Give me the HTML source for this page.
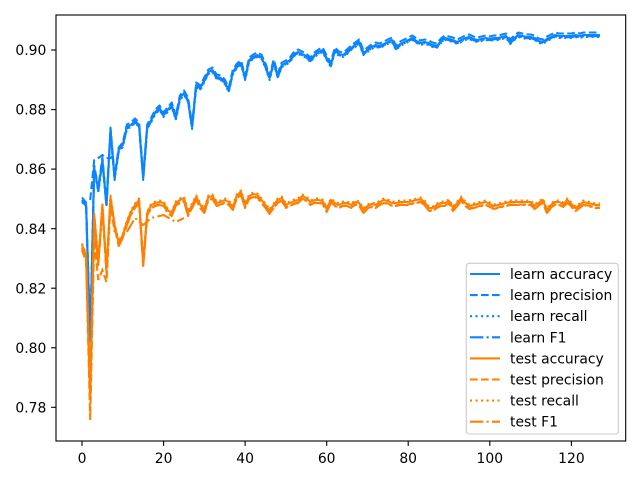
<!DOCTYPE html>
<html><head><meta charset="utf-8"><style>
html,body{margin:0;padding:0;background:#fff;}
svg{display:block;}
text{font-family:"DejaVu Sans","Liberation Sans",sans-serif;font-size:13.9px;fill:#000;}
</style></head><body>
<svg width="640" height="480" viewBox="0 0 640 480" xmlns="http://www.w3.org/2000/svg">
<defs>
<polyline id="b" fill="none" stroke-linejoin="round" points="82,200 86.1,205 90.2,340 94.2,168 98.3,190 102.4,160 106.5,205 110.5,130 114.6,178 118.7,150 122.8,145 126.9,127 130.9,125 135,121 139.1,125 143.2,178 147.2,127 151.3,120 155.4,112 159.5,108 163.6,115 167.6,110 171.7,105 175.8,118 179.9,98 184,93 188,100 192.1,127 196.2,85 200.3,88 204.3,80 208.4,72 212.5,70 216.6,77 220.7,78 224.7,82 228.8,90 232.9,72 237,66 241,63 245.1,78 249.2,60 253.3,57 257.4,55 261.4,57 265.5,66 269.6,78 273.7,62 277.7,76 281.8,65 285.9,63 290,60 294.1,54 298.1,52 302.2,54 306.3,56 310.4,60 314.4,55 318.5,52 322.6,50 326.7,58 330.8,65 334.8,50 338.9,54 343,55 347.1,52 351.1,48 355.2,45 359.3,42 363.4,53 367.5,50 371.5,47 375.6,45 379.7,46 383.8,44 387.9,42 391.9,40 396,48 400.1,44 404.2,42 408.2,40 412.3,38 416.4,41 420.5,43 424.6,42 428.6,43 432.7,45 436.8,46 440.9,41 444.9,38 449,39 453.1,40 457.2,42 461.3,40 465.3,38 469.4,37 473.5,39 477.6,40 481.6,39 485.7,38 489.8,39 493.9,38 498,38 502,37 506.1,36 510.2,42 514.3,38 518.3,35 522.4,36 526.5,37 530.6,37 534.7,38 538.7,41 542.8,42 546.9,39 551,37 555,35 559.1,36 563.2,36 567.3,36 571.4,36 575.4,35 579.5,36 583.6,35 587.7,35 591.8,35 595.8,35 599.9,35"/>
<polyline id="o" fill="none" stroke-linejoin="round" points="82,245 86.1,255 90.2,395 94.2,215 98.3,262 102.4,205 106.5,270 110.5,197 114.6,225 118.7,243 122.8,235 126.9,222 130.9,212 135,205 139.1,200 143.2,263 147.2,213 151.3,205 155.4,203 159.5,202 163.6,203 167.6,210 171.7,213 175.8,203 179.9,200 184,198 188,213 192.1,205 196.2,197 200.3,205 204.3,210 208.4,197 212.5,196 216.6,203 220.7,202 224.7,200 228.8,202 232.9,207 237,195 241,192 245.1,205 249.2,196 253.3,194 257.4,195 261.4,200 265.5,205 269.6,211 273.7,205 277.7,200 281.8,198 285.9,205 290,203 294.1,201 298.1,200 302.2,196 306.3,198 310.4,202 314.4,200 318.5,200 322.6,201 326.7,209 330.8,200 334.8,203 338.9,205 343,203 347.1,203 351.1,205 355.2,202 359.3,203 363.4,210 367.5,206 371.5,204 375.6,205 379.7,202 383.8,200 387.9,201 391.9,203 396,203 400.1,202 404.2,202 408.2,202 412.3,201 416.4,200 420.5,199 424.6,202 428.6,208 432.7,208 436.8,205 440.9,203 444.9,203 449,201 453.1,208 457.2,203 461.3,198 465.3,203 469.4,206 473.5,205 477.6,204 481.6,203 485.7,202 489.8,204 493.9,206 498,205 502,204 506.1,203 510.2,202 514.3,202 518.3,202 522.4,202 526.5,202 530.6,202 534.7,206 538.7,203 542.8,200 546.9,210 551,205 555,202 559.1,202 563.2,204 567.3,200 571.4,204 575.4,208 579.5,205 583.6,202 587.7,203 591.8,204 595.8,205 599.9,205"/>
</defs>

<!-- blue series -->
<g stroke="#0a84ff" stroke-width="2.08">
  <use href="#b"/>
  <use href="#b" transform="translate(0,-2.5)" stroke-dasharray="7.7,3.3"/>
  <use href="#b" transform="translate(0,2)" stroke-dasharray="2.08,3.43"/>
  <use href="#b" transform="translate(0,1.2)" stroke-dasharray="13.3,3.3,2.08,3.3"/>
  <polyline fill="none" stroke-dasharray="7.7,3.3" points="90.2,200 94.2,160 98.3,158 102.4,155 106.5,158 110.5,158 114.6,155"/>
</g>
<!-- orange series -->
<g stroke="#ff8000" stroke-width="2.08">
  <use href="#o"/>
  <use href="#o" transform="translate(0,2.5)" stroke-dasharray="7.7,3.3"/>
  <use href="#o" transform="translate(0,-1.5)" stroke-dasharray="2.08,3.43"/>
  <use href="#o" transform="translate(0,3)" stroke-dasharray="13.3,3.3,2.08,3.3"/>
  <polyline fill="none" stroke-dasharray="7.7,3.3" points="82,250 86.1,262 90.2,420 94.2,240 98.3,280 102.4,270 106.5,282 110.5,205 114.6,232"/>
  <polyline fill="none" stroke-dasharray="13.3,3.3,2.08,3.3" points="126.9,232 135,218 143.2,225 151.3,218 163.6,215 175.8,222 184,218"/>
</g>

<!-- axes frame -->
<rect x="56" y="15" width="569.7" height="426" fill="none" stroke="#000" stroke-width="1.1"/>

<!-- ticks -->
<g stroke="#000" stroke-width="1.1">
  <line x1="51.1" y1="407.3" x2="56" y2="407.3"/>
  <line x1="51.1" y1="347.8" x2="56" y2="347.8"/>
  <line x1="51.1" y1="288.2" x2="56" y2="288.2"/>
  <line x1="51.1" y1="228.7" x2="56" y2="228.7"/>
  <line x1="51.1" y1="169.1" x2="56" y2="169.1"/>
  <line x1="51.1" y1="109.6" x2="56" y2="109.6"/>
  <line x1="51.1" y1="50" x2="56" y2="50"/>
  <line x1="82" y1="441" x2="82" y2="445.9"/>
  <line x1="163.6" y1="441" x2="163.6" y2="445.9"/>
  <line x1="245.1" y1="441" x2="245.1" y2="445.9"/>
  <line x1="326.7" y1="441" x2="326.7" y2="445.9"/>
  <line x1="408.2" y1="441" x2="408.2" y2="445.9"/>
  <line x1="489.8" y1="441" x2="489.8" y2="445.9"/>
  <line x1="571.4" y1="441" x2="571.4" y2="445.9"/>
</g>
<g text-anchor="end">
  <text x="46.3" y="412.4">0.78</text>
  <text x="46.3" y="352.9">0.80</text>
  <text x="46.3" y="293.3">0.82</text>
  <text x="46.3" y="233.8">0.84</text>
  <text x="46.3" y="174.2">0.86</text>
  <text x="46.3" y="114.7">0.88</text>
  <text x="46.3" y="55.1">0.90</text>
</g>
<g text-anchor="middle">
  <text x="82" y="463">0</text>
  <text x="163.6" y="463">20</text>
  <text x="245.1" y="463">40</text>
  <text x="326.7" y="463">60</text>
  <text x="408.2" y="463">80</text>
  <text x="489.8" y="463">100</text>
  <text x="571.4" y="463">120</text>
</g>

<!-- legend -->
<rect x="466.3" y="263.3" width="152" height="170.7" rx="3" ry="3" fill="#fff" fill-opacity="0.8" stroke="#ccc" stroke-width="1.1"/>
<g stroke-width="2.08">
  <line x1="470" y1="274" x2="500" y2="274" stroke="#0a84ff"/>
  <line x1="470" y1="295.1" x2="500" y2="295.1" stroke="#0a84ff" stroke-dasharray="7.7,3.3"/>
  <line x1="470" y1="316.2" x2="500" y2="316.2" stroke="#0a84ff" stroke-dasharray="2.08,3.43"/>
  <line x1="470" y1="337.3" x2="500" y2="337.3" stroke="#0a84ff" stroke-dasharray="13.3,3.3,2.08,3.3"/>
  <line x1="470" y1="358.4" x2="500" y2="358.4" stroke="#ff8000"/>
  <line x1="470" y1="379.5" x2="500" y2="379.5" stroke="#ff8000" stroke-dasharray="7.7,3.3"/>
  <line x1="470" y1="400.6" x2="500" y2="400.6" stroke="#ff8000" stroke-dasharray="2.08,3.43"/>
  <line x1="470" y1="421.7" x2="500" y2="421.7" stroke="#ff8000" stroke-dasharray="13.3,3.3,2.08,3.3"/>
</g>
<g>
  <text x="510" y="279">learn accuracy</text>
  <text x="510" y="300.1">learn precision</text>
  <text x="510" y="321.2">learn recall</text>
  <text x="510" y="342.3">learn F1</text>
  <text x="510" y="363.4">test accuracy</text>
  <text x="510" y="384.5">test precision</text>
  <text x="510" y="405.6">test recall</text>
  <text x="510" y="426.7">test F1</text>
</g>
</svg>
</body></html>
